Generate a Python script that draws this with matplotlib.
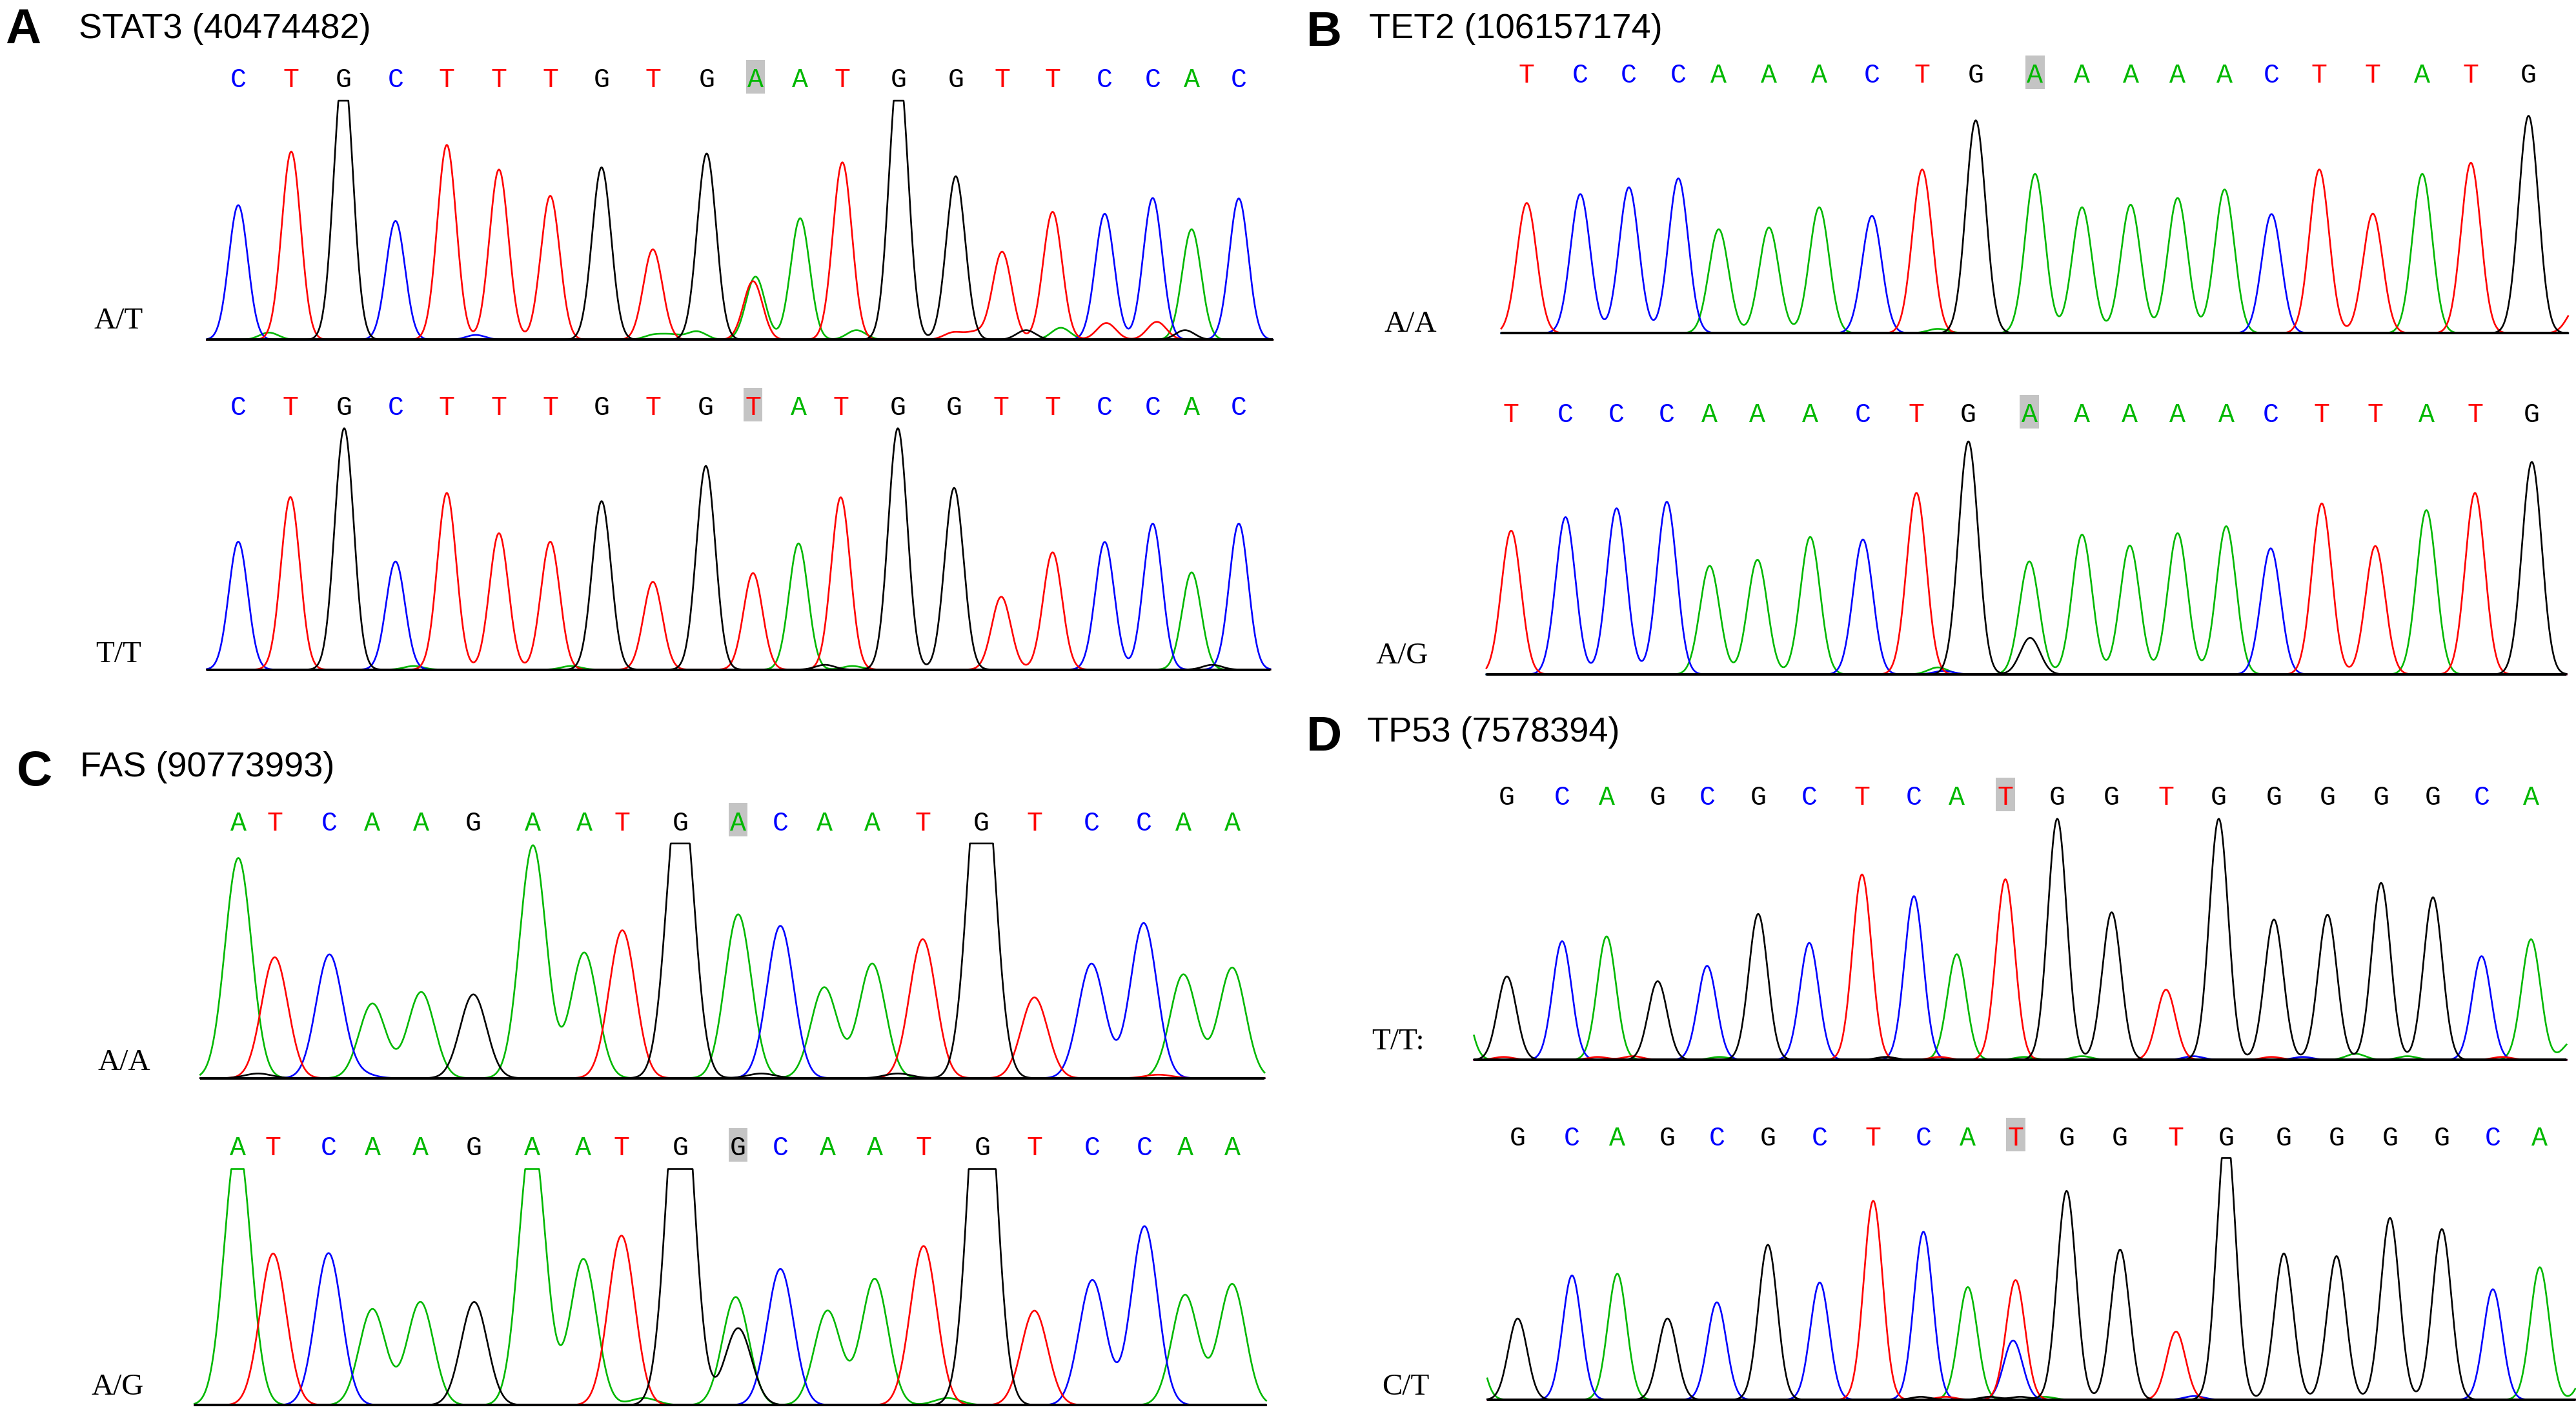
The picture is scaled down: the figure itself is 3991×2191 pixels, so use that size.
import numpy as np
import matplotlib
matplotlib.use("Agg")
import matplotlib.pyplot as plt
from matplotlib.patches import Rectangle
import matplotlib.transforms as mtransforms

# ---------------- data (peak positions in scan units, heights relative) ----------------
TITLES = ["STAT3 (40474482)", "TET2 (106157174)", "FAS (90773993)", "TP53 (7578394)"]
PANEL_LETTERS = ["A", "B", "C", "D"]
HIGHLIGHT_INDEX = 10

SEQ_A1 = "CTGCTTTGTGAATGGTTCCAC"
POS_A1 = [288, 352, 415, 478, 540, 603, 665, 727, 789, 854, 913, 967, 1018, 1086, 1155, 1211, 1272, 1335, 1393, 1440, 1497]
HGT_A1 = [0.563, 0.787, 1.15, 0.497, 0.815, 0.712, 0.602, 0.721, 0.378, 0.779, 0.264, 0.508, 0.742, 1.15, 0.684, 0.368, 0.535, 0.527, 0.593, 0.462, 0.591]
MINOR_A1 = [(910, 'T', 0.245), (325, 'A', 0.03), (575, 'C', 0.02), (790, 'A', 0.02), (812, 'A', 0.02),
            (842, 'A', 0.035), (1035, 'A', 0.04), (1152, 'T', 0.03), (1178, 'T', 0.03), (1240, 'G', 0.04),
            (1282, 'A', 0.05), (1337, 'T', 0.07), (1398, 'T', 0.075), (1432, 'G', 0.04)]
LABEL_A1 = "A/T"

SEQ_A2 = "CTGCTTTGTGTATGGTTCCAC"
POS_A2 = [288, 351, 416, 478, 540, 603, 665, 727, 789, 853, 910, 965, 1016, 1085, 1153, 1210, 1272, 1335, 1393, 1440, 1497]
HGT_A2 = [0.530, 0.715, 1.0, 0.448, 0.732, 0.565, 0.530, 0.698, 0.364, 0.844, 0.400, 0.523, 0.714, 1.0, 0.753, 0.302, 0.486, 0.529, 0.605, 0.403, 0.605]
MINOR_A2 = [(500, 'A', 0.015), (690, 'A', 0.015), (997, 'G', 0.02), (1030, 'A', 0.015), (1465, 'G', 0.02)]
LABEL_A2 = "T/T"

SEQ_B1 = "TCCCAAACTGAAAAACTTATG"
POS_B1 = [286, 351, 410, 470, 519, 580, 641, 705, 766, 831, 903, 960, 1019, 1076, 1133, 1190, 1248, 1313, 1373, 1432, 1502]
HGT_B1 = [0.599, 0.640, 0.671, 0.712, 0.478, 0.486, 0.579, 0.540, 0.753, 0.979, 0.733, 0.579, 0.591, 0.622, 0.661, 0.548, 0.753, 0.550, 0.733, 0.784, 1.0]
MINOR_B1 = [(1562, 'T', 0.13), (785, 'A', 0.02)]
LABEL_B1 = "A/A"

SEQ_B2 = "TCCCAAACTGAAAAACTTATG"
POS_B2 = [267, 333, 395, 456, 508, 566, 630, 694, 759, 822, 896, 960, 1018, 1076, 1135, 1189, 1251, 1316, 1378, 1437, 1506]
HGT_B2 = [0.617, 0.675, 0.713, 0.741, 0.466, 0.492, 0.590, 0.579, 0.779, 1.0, 0.485, 0.600, 0.553, 0.606, 0.636, 0.541, 0.734, 0.551, 0.705, 0.779, 0.912]
MINOR_B2 = [(897, 'G', 0.157), (785, 'A', 0.03), (792, 'C', 0.015)]
LABEL_B2 = "A/G"

SEQ_C1 = "ATCAAGAATGACAATGTCCAA"
POS_C1 = [288, 332, 398, 450, 509, 572, 644, 706, 752, 822, 892, 943, 996, 1054, 1115, 1186, 1250, 1319, 1382, 1430, 1489]
HGT_C1 = [0.938, 0.515, 0.526, 0.318, 0.367, 0.357, 0.992, 0.535, 0.630, 1.3, 0.698, 0.649, 0.387, 0.488, 0.592, 1.47, 0.344, 0.488, 0.661, 0.442, 0.471]
MINOR_C1 = [(312, 'G', 0.02), (435, 'C', 0.02), (920, 'G', 0.02), (1085, 'G', 0.02), (1400, 'T', 0.015)]
LABEL_C1 = "A/A"

SEQ_C2 = "ATCAAGAATGGCAATGTCCAA"
POS_C2 = [287, 330, 397, 450, 508, 573, 643, 705, 751, 822, 892, 943, 1000, 1057, 1116, 1187, 1250, 1320, 1383, 1432, 1489]
HGT_C2 = [1.12, 0.642, 0.644, 0.407, 0.437, 0.437, 1.15, 0.619, 0.718, 1.55, 0.326, 0.577, 0.400, 0.535, 0.674, 1.7, 0.400, 0.530, 0.758, 0.467, 0.513]
MINOR_C2 = [(889, 'A', 0.458), (778, 'A', 0.03), (1145, 'A', 0.03)]
LABEL_C2 = "A/G"

SEQ_D1 = "GCAGCGCTCATGGTGGGGGCA"
POS_D1 = [262, 329, 383, 445, 505, 567, 629, 693, 756, 808, 867, 930, 996, 1062, 1126, 1193, 1258, 1323, 1386, 1445, 1505]
HGT_D1 = [0.346, 0.492, 0.512, 0.326, 0.390, 0.605, 0.485, 0.769, 0.679, 0.438, 0.749, 1.0, 0.612, 0.291, 1.0, 0.582, 0.602, 0.734, 0.674, 0.430, 0.500]
MINOR_D1 = [(205, 'A', 0.3), (1556, 'A', 0.08), (258, 'T', 0.012), (372, 'T', 0.012), (415, 'T', 0.015),
            (520, 'A', 0.012), (722, 'G', 0.012), (787, 'T', 0.012), (890, 'A', 0.012), (960, 'A', 0.015),
            (1095, 'C', 0.015), (1190, 'T', 0.012), (1228, 'C', 0.012), (1292, 'A', 0.025),
            (1355, 'A', 0.015), (1470, 'T', 0.012)]
LABEL_D1 = "T/T:"

SEQ_D2 = "GCAGCGCTCATGGTGGGGGCA"
POS_D2 = [275, 341, 396, 457, 517, 579, 642, 707, 768, 822, 880, 942, 1007, 1075, 1136, 1206, 1270, 1335, 1398, 1460, 1517]
HGT_D2 = [0.336, 0.514, 0.521, 0.336, 0.403, 0.641, 0.485, 0.823, 0.695, 0.466, 0.495, 0.864, 0.621, 0.282, 1.12, 0.605, 0.594, 0.752, 0.706, 0.457, 0.548]
MINOR_D2 = [(877, 'C', 0.245), (220, 'A', 0.3), (1580, 'A', 0.2), (765, 'G', 0.012), (795, 'T', 0.012),
            (848, 'G', 0.012), (886, 'G', 0.012), (915, 'A', 0.012), (1097, 'C', 0.015)]
LABEL_D2 = "C/T"

# ---------------- styles / layout (reference layout units) ----------------
W, H = 1568.2, 860.9
COLORS = {'A': '#00b800', 'C': '#0000ff', 'G': '#000000', 'T': '#ff0000'}
SIGMA = {'A': 11.5, 'B': 12.0, 'C': 16.0, 'D': 11.5}

# trace boxes: (x_left, x_right, y_baseline, y_top), scan xlim, letter-row y, label (x, baseline y)
TRACES = [
    ('A', SEQ_A1, POS_A1, HGT_A1, MINOR_A1, LABEL_A1, (125.9, 774.7, 207.0, 61.5), (250, 1538), 47.6, (57.0, 200.0)),
    ('A', SEQ_A2, POS_A2, HGT_A2, MINOR_A2, LABEL_A2, (125.9, 773.2, 407.8, 260.9), (250, 1535), 247.2, (58.4, 403.0)),
    ('B', SEQ_B1, POS_B1, HGT_B1, MINOR_B1, LABEL_B1, (913.8, 1563.2, 203.0, 70.7), (255, 1550), 44.9, (842.6, 202.0)),
    ('B', SEQ_B2, POS_B2, HGT_B2, MINOR_B2, LABEL_B2, (904.8, 1562.2, 410.7, 268.9), (237, 1548), 251.6, (837.6, 403.8)),
    ('C', SEQ_C1, POS_C1, HGT_C1, MINOR_C1, LABEL_C1, (121.9, 769.7, 656.5, 513.6), (242, 1528), 500.0, (59.4, 651.2)),
    ('C', SEQ_C2, POS_C2, HGT_C2, MINOR_C2, LABEL_C2, (118.4, 770.7, 855.5, 711.8), (235, 1530), 697.8, (55.4, 849.0)),
    ('D', SEQ_D1, POS_D1, HGT_D1, MINOR_D1, LABEL_D1, (897.2, 1562.2, 645.3, 498.6), (222, 1548), 484.6, (835.0, 638.6)),
    ('D', SEQ_D2, POS_D2, HGT_D2, MINOR_D2, LABEL_D2, (905.3, 1567.5, 852.2, 705.1), (238, 1560), 691.7, (841.1, 849.0)),
]
HEADERS = [  # panel letter (x, baseline), title (x, baseline)
    ((3.0, 26.5), (48.0, 23.1)),
    ((795.0, 27.9), (833.5, 23.1)),
    ((10.0, 478.1), (48.9, 472.4)),
    ((795.0, 456.8), (832.0, 451.4)),
]

SEQ_FONT = 'Liberation Mono'
LAB_FONT = 'Liberation Serif'

fig = plt.figure(figsize=(39.915, 21.915), dpi=100)
fig.patch.set_facecolor('white')


def fx(px):
    return px / W


def fy(py):
    return 1.0 - py / H


for (panel, seq, pos, hgt, minor, label, box, xlim, letter_y, lab_xy) in TRACES:
    x0, x1, yb, yt = box
    ax = fig.add_axes([fx(x0), fy(yb), (x1 - x0) / W, (yb - yt) / H])
    ax.set_xlim(*xlim)
    ax.set_ylim(0, 1)
    ax.axis('off')
    sig = SIGMA[panel]
    xs = np.linspace(xlim[0], xlim[1], 4000)
    for base in ['A', 'C', 'T', 'G']:
        y = np.zeros_like(xs)
        for b, p, h in zip(seq, pos, hgt):
            if b == base:
                y += h * np.exp(-0.5 * ((xs - p) / sig) ** 2)
        for p, b, h in minor:
            if b == base:
                y += h * np.exp(-0.5 * ((xs - p) / sig) ** 2)
        y = np.minimum(y, 1.0)
        ax.plot(xs, y, color=COLORS[base], lw=1.9, clip_on=False, zorder=2)
    ax.plot([0, 1], [0, 0], transform=ax.transAxes, color='black', lw=2.8,
            solid_capstyle='butt', clip_on=False, zorder=5)

    trans = mtransforms.blended_transform_factory(ax.transData, ax.transAxes)
    axh = yb - yt
    scale = (x1 - x0) / (xlim[1] - xlim[0])  # layout px per scan unit
    # highlight box
    bw = 11.6 / scale
    bh = 20.4 / axh
    byc = (yb - (letter_y - 0.8)) / axh
    p_h = pos[HIGHLIGHT_INDEX]
    ax.add_patch(Rectangle((p_h - bw / 2, byc - bh / 2), bw, bh, transform=trans,
                           facecolor='#c4c4c4', edgecolor='none', clip_on=False, zorder=1))
    ly = (yb - (letter_y + 5.45)) / axh
    for b, p in zip(seq, pos):
        ax.text(p, ly, b, transform=trans, ha='center', va='baseline', color=COLORS[b],
                fontsize=30, family=SEQ_FONT, fontweight='normal', clip_on=False, zorder=3)
    fig.text(fx(lab_xy[0]), fy(lab_xy[1]), label, ha='left', va='baseline',
             fontsize=34, family=LAB_FONT, color='black')

for letter, title, ((lx, lyb), (tx, tyb)) in zip(PANEL_LETTERS, TITLES, HEADERS):
    fig.text(fx(lx), fy(lyb), letter, ha='left', va='baseline', fontsize=55,
             fontweight='bold', family='Liberation Sans', color='black')
    fig.text(fx(tx), fy(tyb), title, ha='left', va='baseline', fontsize=39,
             family='Liberation Sans', color='black')

fig.savefig('out.png', dpi=100, facecolor='white')
